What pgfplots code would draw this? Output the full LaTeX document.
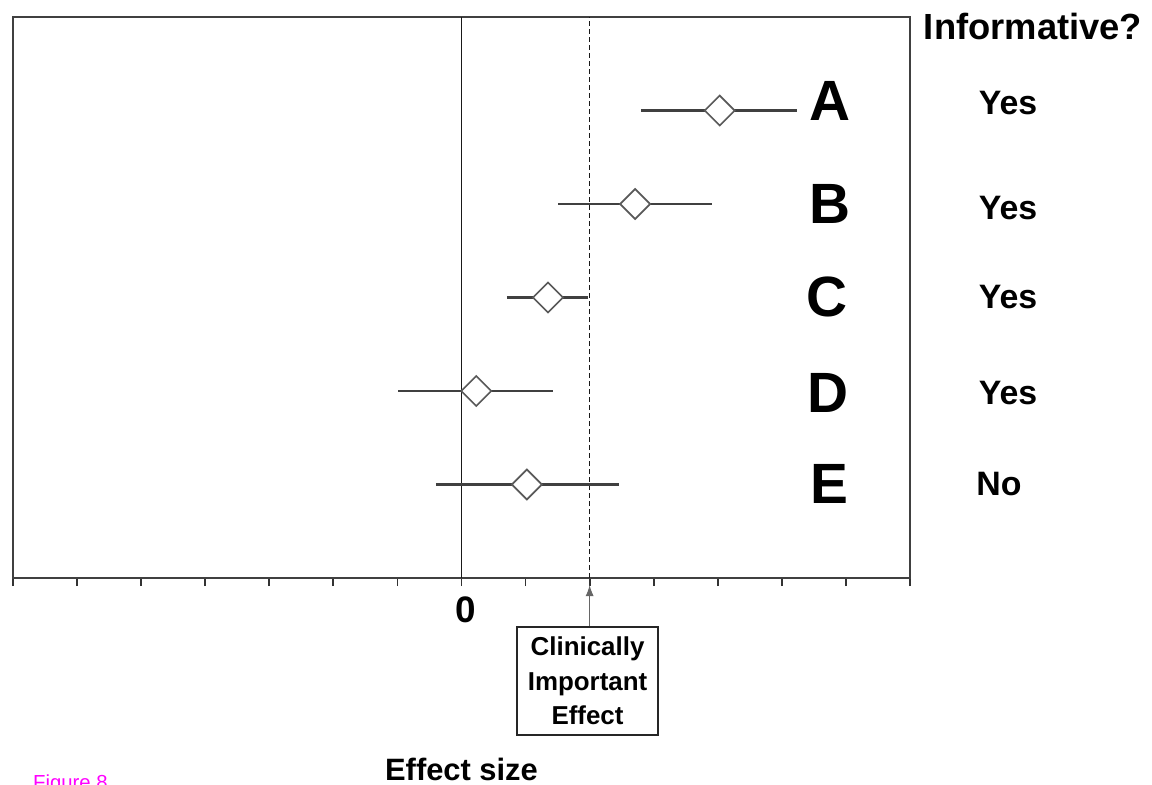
\documentclass[border=0pt]{standalone}
\usepackage{pgfplots}
\pgfplotsset{compat=1.18}
\usetikzlibrary{arrows.meta}
\usepackage{fontspec}
\setmainfont{Liberation Sans}
\definecolor{figmag}{RGB}{255,0,255}

\begin{document}
\begin{tikzpicture}
\useasboundingbox (-13bp,-207bp) rectangle (1139bp,578bp);
\begin{axis}[at={(0,0)}, anchor=south west, scale only axis,
  width=897bp, height=561bp,
  xmin=-7, xmax=7, ymin=0, ymax=6,
  xtick={-7,...,7}, xticklabels={}, ytick=\empty,
  tick align=outside, xtick pos=left, major tick length=8bp,
  clip=false,
  axis line style={black!75, line width=2bp},
  every tick/.style={black!80, line width=1.8bp}]

% reference lines
\addplot[black!90, line width=1.6bp] coordinates {(0,0) (0,6)};
\addplot[black!90, line width=1.6bp, dash pattern=on 5bp off 3bp] coordinates {(2,0) (2,6)};

% confidence intervals
\addplot[black!75, line width=2.2bp] coordinates {(2.80,5) (5.24,5)};
\addplot[black!75, line width=2.2bp] coordinates {(1.51,4) (3.91,4)};
\addplot[black!75, line width=2.2bp] coordinates {(0.71,3) (1.97,3)};
\addplot[black!75, line width=2.2bp] coordinates {(-0.99,2) (1.43,2)};
\addplot[black!75, line width=2.2bp] coordinates {(-0.40,1) (2.46,1)};

% point estimates
\addplot[only marks, mark=square*, mark size=10.6bp,
  mark options={rotate=45, fill=white, draw=black!65, line width=1.7bp}]
  coordinates {(4.03,5) (2.71,4) (1.35,3) (0.23,2) (1.02,1)};

% study letters
\node[font=\fontsize{57}{57}\selectfont\bfseries] at (axis cs:5.75,5.10) {A};
\node[font=\fontsize{57}{57}\selectfont\bfseries] at (axis cs:5.75,4.00) {B};
\node[font=\fontsize{57}{57}\selectfont\bfseries] at (axis cs:5.70,3.005) {C};
\node[font=\fontsize{57}{57}\selectfont\bfseries] at (axis cs:5.72,1.98) {D};
\node[font=\fontsize{57}{57}\selectfont\bfseries] at (axis cs:5.74,1.005) {E};

% informative column
\node[font=\fontsize{36.5}{36.5}\selectfont\bfseries] at (axis cs:8.92,5.90) {Informative?};
\node[font=\fontsize{34}{34}\selectfont\bfseries] at (axis cs:8.53,5.08) {Yes};
\node[font=\fontsize{34}{34}\selectfont\bfseries] at (axis cs:8.53,3.96) {Yes};
\node[font=\fontsize{34}{34}\selectfont\bfseries] at (axis cs:8.53,3.00) {Yes};
\node[font=\fontsize{34}{34}\selectfont\bfseries] at (axis cs:8.53,1.98) {Yes};
\node[font=\fontsize{34}{34}\selectfont\bfseries] at (axis cs:8.39,1.00) {No};

% zero label
\node[font=\fontsize{37}{37}\selectfont] at (axis cs:0.07,-0.335) {\textbf{0}};

% clinically important effect
\draw[black!60, line width=1bp, -{Latex[length=11bp,width=8bp]}]
  (axis cs:2,-0.524) -- (axis cs:2,-0.075);
\node[draw=black!85, line width=1.4bp, fill=white, minimum width=141bp, minimum height=108bp,
  inner sep=0pt, align=center, font=\fontsize{26}{35}\selectfont\bfseries]
  at (axis cs:1.967,-1.10) {Clinically\\Important\\Effect};

% axis title
\node[font=\fontsize{31}{31}\selectfont\bfseries] at (axis cs:0,-2.043) {Effect size};

% figure caption (cut by page edge, as in the reference)
\node[anchor=base west, inner sep=0pt, text=figmag, font=\fontsize{20.4}{20.4}\selectfont]
  at (axis cs:-6.688,-2.263) {Figure 8};
\end{axis}
\end{tikzpicture}
\end{document}
